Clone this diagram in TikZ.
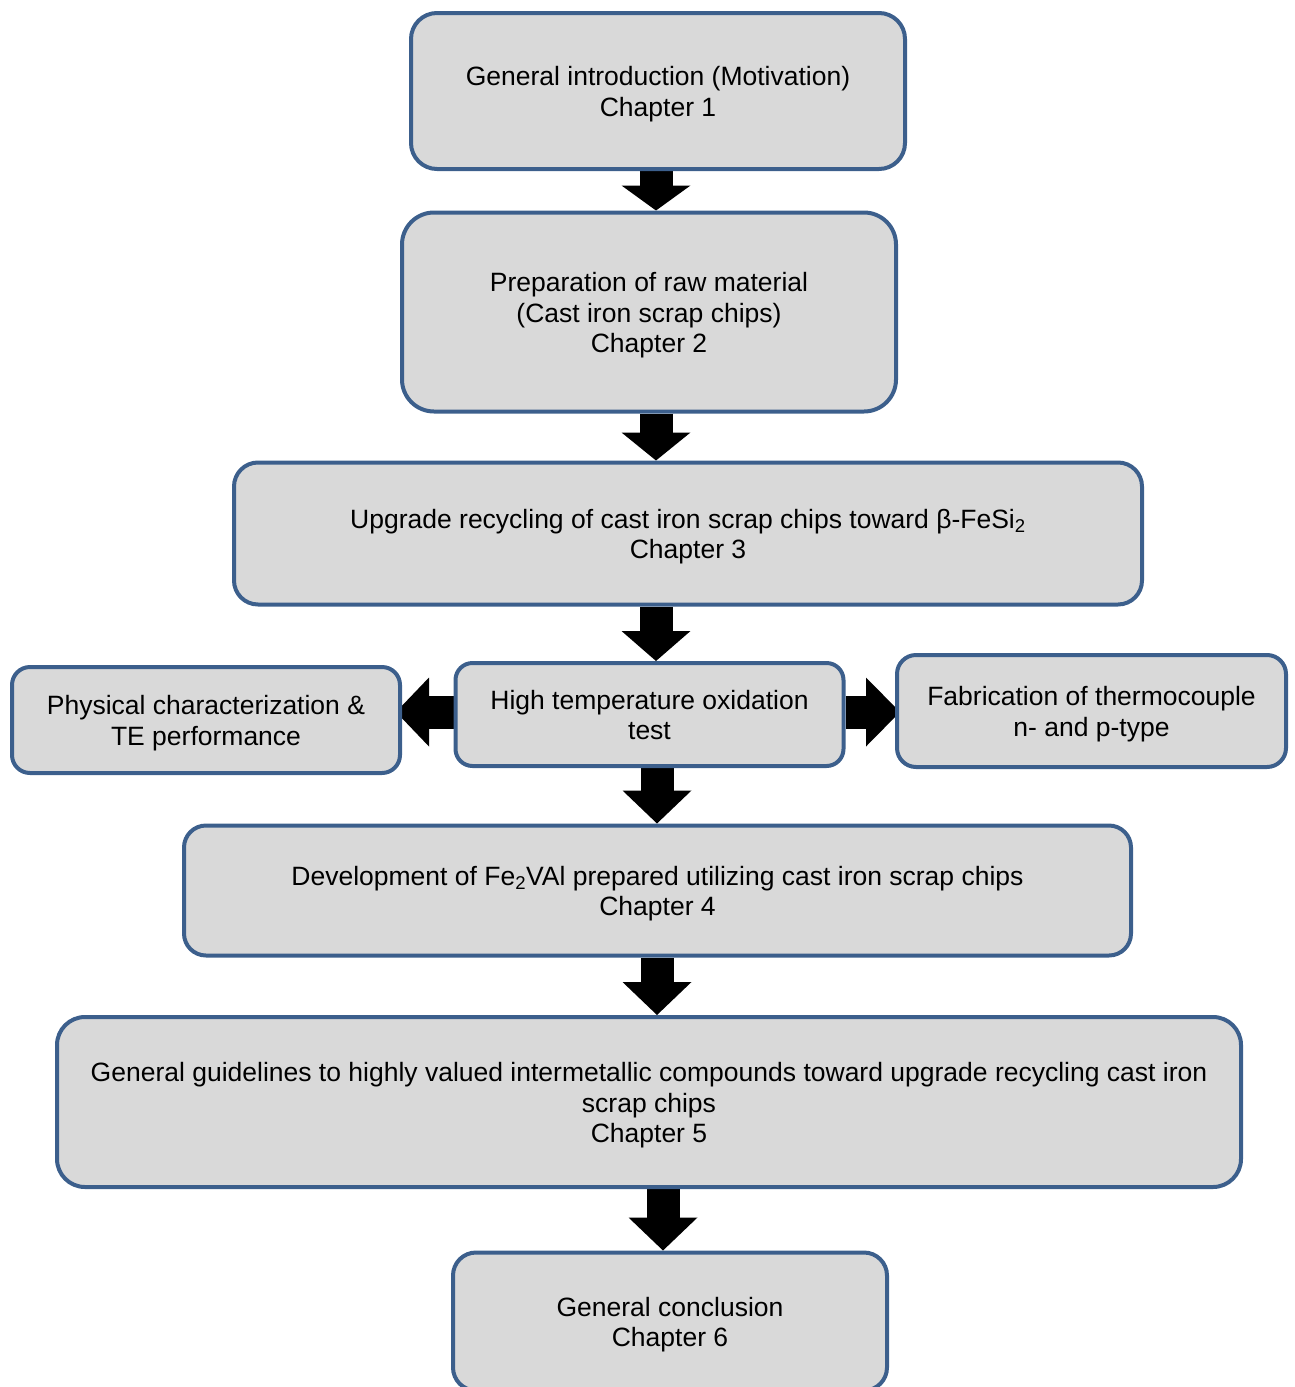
\documentclass[tikz,border=0pt]{standalone}
\usepackage{fontspec}
\setmainfont{Liberation Sans}
\usetikzlibrary{arrows.meta,backgrounds}
\definecolor{bord}{HTML}{3C5F8C}
\definecolor{boxfill}{HTML}{D9D9D9}
\newcommand\topstrut{\rule{0pt}{27pt}}
\newcommand\botstrut{\rule[-7pt]{0pt}{7pt}}
\tikzset{
  box/.style={draw=bord, fill=boxfill, line width=4pt, align=center,
    inner sep=0pt, font=\fontsize{26.5}{30.5}\selectfont},
  blk/.style={line width=33pt, draw=black,
    -{Triangle[length=#1, width=69pt, line width=0pt]}},
}
\begin{document}
\begin{tikzpicture}[x=1pt,y=-1pt]
\useasboundingbox (0,0) rectangle (1295,1387);
\node[box, minimum width=494pt, minimum height=156pt, rounded corners=26pt] (n1) at (658,91)
  {\topstrut General introduction (Motivation)\\Chapter 1\botstrut};
\node[box, minimum width=494pt, minimum height=199pt, rounded corners=32pt] (n2) at (649,312)
  {\topstrut Preparation of raw material\\(Cast iron scrap chips)\\Chapter 2\botstrut};
\node[box, minimum width=908pt, minimum height=142pt, rounded corners=24pt] (n3) at (688,533.5)
  {\topstrut Upgrade recycling of cast iron scrap chips toward β-FeSi\textsubscript{2}\\Chapter 3\botstrut};
\node[box, minimum width=388pt, minimum height=106pt, rounded corners=18pt] (nL) at (206,720)
  {\topstrut Physical characterization \&\\TE performance\botstrut};
\node[box, minimum width=388pt, minimum height=103pt, rounded corners=17pt] (nC) at (649.5,714.5)
  {\topstrut High temperature oxidation\\test\botstrut};
\node[box, minimum width=389pt, minimum height=112pt, rounded corners=19pt] (nR) at (1091.5,711)
  {\topstrut Fabrication of thermocouple\\n- and p-type\botstrut};
\node[box, minimum width=947pt, minimum height=130pt, rounded corners=22pt] (n5) at (657.5,890.5)
  {\topstrut Development of Fe\textsubscript{2}VAl prepared utilizing cast iron scrap chips\\Chapter 4\botstrut};
\node[box, minimum width=1184pt, minimum height=170pt, rounded corners=28pt] (n6) at (649,1102)
  {\topstrut General guidelines to highly valued intermetallic compounds toward upgrade recycling cast iron\\scrap chips\\Chapter 5\botstrut};
\node[box, minimum width=434pt, minimum height=138pt, rounded corners=23pt] (n7) at (670,1321.5)
  {\topstrut General conclusion\\Chapter 6\botstrut};
\coordinate (xa) at (656,0);
\coordinate (xb) at (657,0);
\coordinate (xc) at (663,0);
\coordinate (ya) at (0,712);
\begin{scope}[on background layer]
\draw[blk=25pt] (n1.south -| xa) -- (n2.north -| xa);
\draw[blk=28pt] (n2.south -| xa) -- (n3.north -| xa);
\draw[blk=30pt] (n3.south -| xa) -- (nC.north -| xa);
\draw[blk=33pt] (nC.south -| xb) -- (n5.north -| xb);
\draw[blk=33pt] (n5.south -| xb) -- (n6.north -| xb);
\draw[blk=33pt] (n6.south -| xc) -- (n7.north -| xc);
\draw[blk=33pt] (nC.west |- ya) -- ([xshift=-6pt]nL.east |- ya);
\draw[blk=34pt] (nC.east |- ya) -- ([xshift=5pt]nR.west |- ya);
\end{scope}
\end{tikzpicture}
\end{document}
